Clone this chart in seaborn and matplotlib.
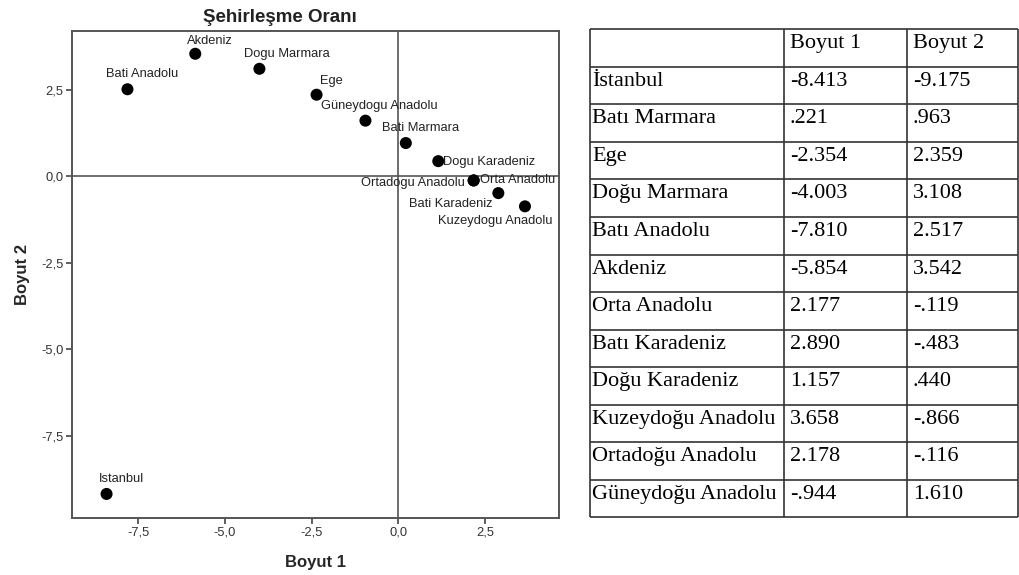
import pandas as pd
import matplotlib
matplotlib.use("Agg")
import matplotlib.pyplot as plt
import seaborn as sns

# Data (MDS coordinates)
regions = ["İstanbul", "Batı Marmara", "Ege", "Doğu Marmara", "Batı Anadolu",
           "Akdeniz", "Orta Anadolu", "Batı Karadeniz", "Doğu Karadeniz",
           "Kuzeydoğu Anadolu", "Ortadoğu Anadolu", "Güneydoğu Anadolu"]
plot_labels = ["Istanbul", "Bati Marmara", "Ege", "Dogu Marmara", "Bati Anadolu",
               "Akdeniz", "Orta Anadolu", "Bati Karadeniz", "Dogu Karadeniz",
               "Kuzeydogu Anadolu", "Ortadogu Anadolu", "Güneydogu Anadolu"]
boyut1 = [-8.413, .221, -2.354, -4.003, -7.810, -5.854, 2.177, 2.890, 1.157, 3.658, 2.178, -.944]
boyut2 = [-9.175, .963, 2.359, 3.108, 2.517, 3.542, -.119, -.483, .440, -.866, -.116, 1.610]
boyut1_text = ["-8.413", ".221", "-2.354", "-4.003", "-7.810", "-5.854", "2.177",
               "2.890", "1.157", "3.658", "2.178", "-.944"]
boyut2_text = ["-9.175", ".963", "2.359", "3.108", "2.517", "3.542", "-.119",
               "-.483", ".440", "-.866", "-.116", "1.610"]
ticks = [-7.5, -5.0, -2.5, 0.0, 2.5]

# label placement (pixel offsets from the point, alignment)
label_pos = {
    "Istanbul": (15, 15, "center"),
    "Bati Marmara": (15, 15, "center"),
    "Ege": (15, 14, "center"),
    "Dogu Marmara": (27, 15, "center"),
    "Bati Anadolu": (15, 15, "center"),
    "Akdeniz": (15, 13, "center"),
    "Orta Anadolu": (6, 0, "left"),
    "Bati Karadeniz": (-6, -11, "right"),
    "Dogu Karadeniz": (5, -1, "left"),
    "Kuzeydogu Anadolu": (-30, -15, "center"),
    "Ortadogu Anadolu": (-9, -3, "right"),
    "Güneydogu Anadolu": (14, 15, "center"),
}

df = pd.DataFrame({"region": plot_labels, "Boyut 1": boyut1, "Boyut 2": boyut2})

sns.set_theme(style="white")
plt.rcParams["font.family"] = ["Liberation Sans", "DejaVu Sans"]

W, H = 1020, 575
fig = plt.figure(figsize=(W / 100, H / 100), dpi=100)

# --- scatter ---
ax_l, ax_r, ax_t, ax_b = 72, 559, 31, 518
ax = fig.add_axes([ax_l / W, 1 - ax_b / H, (ax_r - ax_l) / W, (ax_b - ax_t) / H])
ax.axhline(0, color="#555555", lw=1.2, zorder=1)
ax.axvline(0, color="#555555", lw=1.2, zorder=1)
sns.scatterplot(data=df, x="Boyut 1", y="Boyut 2", color="black", s=75,
                edgecolor="none", ax=ax, zorder=3)
for name, x, y in zip(plot_labels, boyut1, boyut2):
    dx, dy, ha = label_pos[name]
    ax.annotate(name, (x, y), xytext=(dx * 0.72, dy * 0.72), textcoords="offset points",
                ha=ha, va="center", fontsize=9.3, color="#222222", zorder=4)

ax.set_xlim(-9.41, 4.64)
ax.set_ylim(-9.87, 4.2)
ax.set_xticks(ticks)
ax.set_yticks(ticks)
fmt = lambda v: f"{v:.1f}".replace(".", ",")
ax.set_xticklabels([fmt(t) for t in ticks])
ax.set_yticklabels([fmt(t) for t in ticks])
ax.tick_params(axis="both", direction="out", length=4, width=1.2, color="#444444",
               labelsize=9.3, labelcolor="#333333", pad=2,
               bottom=True, left=True, top=False, right=False)
for sp in ax.spines.values():
    sp.set_color("#555555")
    sp.set_linewidth(1.4)
ax.set_xlabel("Boyut 1", fontsize=12, fontweight="bold", labelpad=12)
ax.set_ylabel("Boyut 2", fontsize=12, fontweight="bold", labelpad=8)
fig.text(280 / W, 1 - 18 / H, "Şehirleşme Oranı", ha="center", va="center",
         fontsize=13.5, fontweight="bold", color="#222222")

# --- table ---
tab = fig.add_axes([0, 0, 1, 1])
tab.set_xlim(0, W)
tab.set_ylim(H, 0)
tab.axis("off")
col_edges = [590, 784, 907, 1018.5]
row_top, row_h = 29.3, 37.54
n_rows = len(regions) + 1
line_kw = dict(color="#333333", lw=1.2)
for i in range(n_rows + 1):
    tab.hlines(row_top + i * row_h, col_edges[0], col_edges[-1], **line_kw)
for xe in col_edges:
    tab.vlines(xe, row_top, row_top + n_rows * row_h, **line_kw)

serif = ["Liberation Serif", "DejaVu Serif"]
txt_kw = dict(fontsize=16, family=serif, color="black", va="baseline", ha="left")
pads = [2, 6, 6]
header = ["", "Boyut 1", "Boyut 2"]
rows = [header] + [list(r) for r in zip(regions, boyut1_text, boyut2_text)]
for i, row in enumerate(rows):
    ybase = row_top + i * row_h + 19
    for j, cell in enumerate(row):
        tab.text(col_edges[j] + pads[j], ybase, cell, **txt_kw)

fig.savefig("out.png", dpi=100)
